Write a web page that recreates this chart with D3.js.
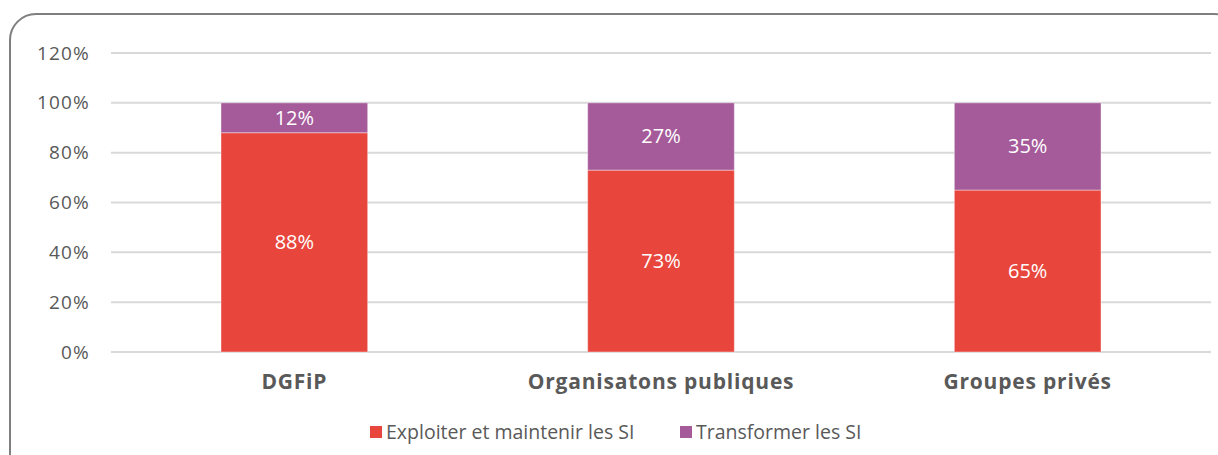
<!DOCTYPE html>
<html>
<head>
<meta charset="utf-8">
<script src="https://cdn.jsdelivr.net/npm/d3@7"></script>
<style>
  body { margin: 0; background: #fff; }
  text { font-family: "Open Sans", sans-serif; }
</style>
</head>
<body>
<div class="chart"></div>
<script>
var svgWidth = 1218;
var svgHeight = 455;

// chart data
var categories = ["DGFiP", "Organisatons publiques", "Groupes privés"];
var exploiter = [88, 73, 65];
var transformer = [12, 27, 35];
var seriesNames = ["Exploiter et maintenir les SI", "Transformer les SI"];
var seriesColors = ["#E8453C", "#A55A9A"];
var yTicks = [0, 20, 40, 60, 80, 100, 120];

var margin = { top: 53, right: 7, bottom: 103, left: 111 };
var width = svgWidth - margin.left - margin.right;
var height = svgHeight - margin.top - margin.bottom;

var svg = d3.select(".chart")
  .append("svg")
  .attr("width", svgWidth)
  .attr("height", svgHeight);

// rounded frame (runs off the right and bottom edges)
svg.append("rect")
  .attr("x", 10)
  .attr("y", 14)
  .attr("width", 1230)
  .attr("height", 470)
  .attr("rx", 26)
  .attr("fill", "none")
  .attr("stroke", "#7f7f7f")
  .attr("stroke-width", 2);

var chartGroup = svg.append("g")
  .attr("transform", `translate(${margin.left}, ${margin.top})`);

var xScale = d3.scaleBand()
  .domain(categories)
  .range([0, width])
  .paddingInner(0.6)
  .paddingOuter(0.3);

var yScale = d3.scaleLinear()
  .domain([0, 120])
  .range([height, 0]);

// gridlines
chartGroup.append("g")
  .selectAll("line")
  .data(yTicks)
  .enter()
  .append("line")
  .attr("x1", 0)
  .attr("x2", width)
  .attr("y1", d => yScale(d))
  .attr("y2", d => yScale(d))
  .attr("stroke", "#d9d9d9")
  .attr("stroke-width", 2);

// y axis labels
var leftAxis = d3.axisLeft(yScale)
  .tickValues(yTicks)
  .tickFormat(d => d + "%")
  .tickSize(0)
  .tickPadding(21);

chartGroup.append("g")
  .call(leftAxis)
  .call(g => g.select(".domain").remove())
  .selectAll("text")
  .attr("fill", "#595959")
  .style("font-size", "19px")
  .style("letter-spacing", "1.2px");

// stacked data
var table = categories.map((c, i) => ({ cat: c, exploiter: exploiter[i], transformer: transformer[i] }));
var stack = d3.stack().keys(["exploiter", "transformer"])(table);

var layers = chartGroup.selectAll(".layer")
  .data(stack)
  .enter()
  .append("g")
  .attr("fill", (d, i) => seriesColors[i]);

layers.selectAll("rect")
  .data(d => d)
  .enter()
  .append("rect")
  .attr("x", d => xScale(d.data.cat))
  .attr("width", xScale.bandwidth())
  .attr("y", d => yScale(d[1]))
  .attr("height", d => yScale(d[0]) - yScale(d[1]))
  .attr("stroke", "#fff")
  .attr("stroke-opacity", 0.4)
  .attr("stroke-width", 1);

layers.selectAll("text")
  .data(d => d)
  .enter()
  .append("text")
  .attr("x", d => xScale(d.data.cat) + xScale.bandwidth() / 2)
  .attr("y", d => (yScale(d[0]) + yScale(d[1])) / 2)
  .attr("dy", "0.35em")
  .attr("text-anchor", "middle")
  .attr("fill", "#fff")
  .style("font-size", "20px")
  .text(d => (d[1] - d[0]) + "%");

// category labels
chartGroup.append("g")
  .selectAll("text")
  .data(categories)
  .enter()
  .append("text")
  .attr("x", d => xScale(d) + xScale.bandwidth() / 2)
  .attr("y", height + 37)
  .attr("text-anchor", "middle")
  .attr("fill", "#595959")
  .style("font-size", "21px")
  .style("font-weight", "bold")
  .style("letter-spacing", "0.8px")
  .text(d => d);

// legend
var legendX = [370, 680];
var legend = svg.append("g")
  .selectAll("g")
  .data(seriesNames)
  .enter()
  .append("g")
  .attr("transform", (d, i) => `translate(${legendX[i]}, 426)`);

legend.append("rect")
  .attr("width", 12)
  .attr("height", 12)
  .attr("fill", (d, i) => seriesColors[i]);

legend.append("text")
  .attr("x", 16)
  .attr("y", 6)
  .attr("dy", "0.35em")
  .attr("fill", "#595959")
  .style("font-size", "19.5px")
  .text(d => d);
</script>
</body>
</html>
